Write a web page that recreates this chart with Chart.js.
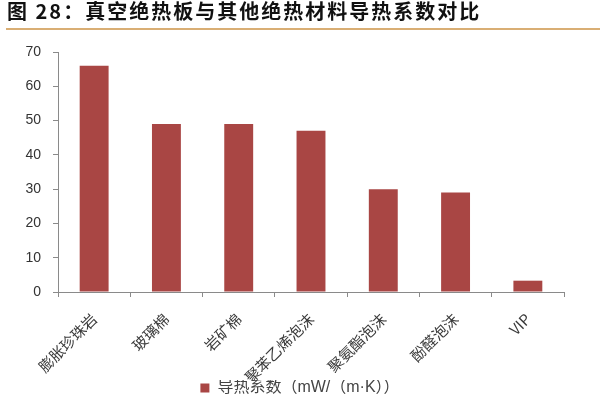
<!DOCTYPE html>
<html><head><meta charset="utf-8">
<script src="https://cdn.jsdelivr.net/npm/chart.js@4"></script>
<style>
html,body{margin:0;padding:0;background:#fff;}
#wrap{position:relative;width:600px;height:400px;overflow:hidden;background:#fff;}
#title{position:absolute;left:7px;top:0;font-family:"Noto Sans CJK SC";font-weight:bold;font-size:20px;letter-spacing:2px;line-height:22px;color:#111;white-space:nowrap;}
#rule{position:absolute;left:6px;right:0;top:28px;height:2px;background:#d9ae74;}
canvas{position:absolute;left:0;top:0;}
</style></head>
<body><div id="wrap"><canvas id="c" width="600" height="400" style="width:600px;height:400px"></canvas><div id="title">图 28：真空绝热板与其他绝热材料导热系数对比</div><div id="rule"></div></div>
<script>
const categories = ['膨胀珍珠岩', '玻璃棉', '岩矿棉', '聚苯乙烯泡沫', '聚氨酯泡沫', '酚醛泡沫', 'VIP'];
const values = [66, 49, 49, 47, 30, 29, 3.3];
const seriesName = '导热系数（mW/（m·K））';
const yMin = 0, yMax = 70, yStep = 10;

new Chart(document.getElementById('c'), {
  type: 'bar',
  data: {
    labels: categories,
    datasets: [{
      label: seriesName,
      data: values,
      backgroundColor: '#a94644',
      borderWidth: 0,
      barPercentage: 0.4,
      categoryPercentage: 1
    }]
  },
  options: {
    responsive: false,
    animation: false,
    layout: { padding: { top: 52, left: 0, right: 0, bottom: 0 } },
    plugins: {
      legend: {
        position: 'bottom',
        maxHeight: 20,
        labels: { boxWidth: 9, boxHeight: 9, padding: 0, color: '#444', font: { family: '"Liberation Sans", "Noto Sans CJK SC"', size: 16 } }
      },
      tooltip: { enabled: false },
      title: { display: false }
    },
    scales: {
      x: {
        grid: { display: true, drawOnChartArea: false, offset: true, tickLength: 5, color: '#8a8a8a' },
        border: { color: '#8a8a8a' },
        ticks: { minRotation: 45, maxRotation: 45, autoSkip: false, padding: 13, color: '#3a3a3a', font: { family: 'Noto Sans CJK SC', size: 15 } },
        afterFit(s) { s.height = 88; }
      },
      y: {
        min: yMin, max: yMax,
        ticks: { stepSize: yStep, padding: 12, color: '#333', font: { family: 'Liberation Sans', size: 14 } },
        grid: { drawOnChartArea: false, tickLength: 5, color: '#8a8a8a' },
        border: { color: '#8a8a8a' },
        afterFit(s) { s.width = 58; }
      },
      yRight: {
        position: 'right',
        display: true,
        ticks: { display: false },
        grid: { display: false },
        border: { display: false },
        afterFit(s) { s.width = 36; }
      }
    }
  }
});
</script>
</body></html>
